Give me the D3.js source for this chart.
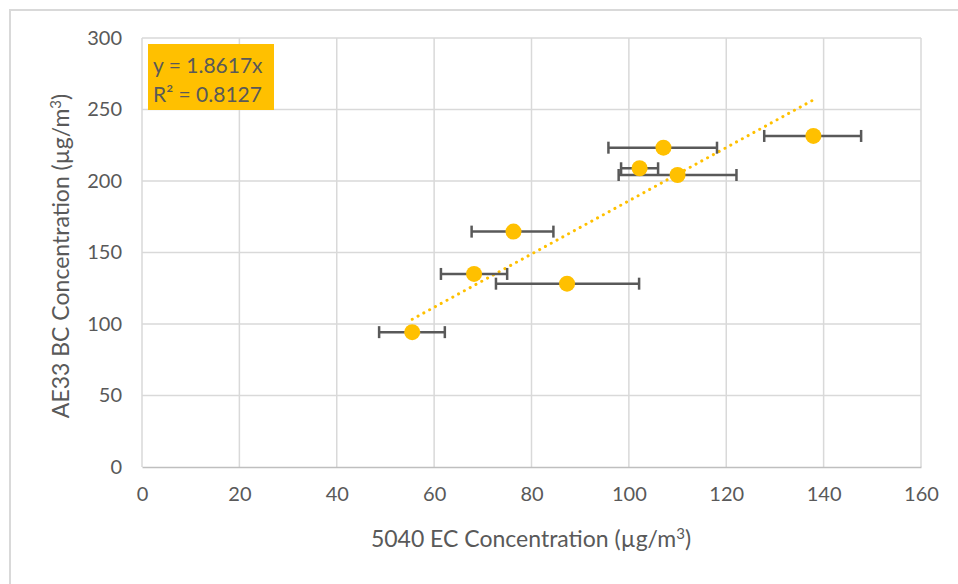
<!DOCTYPE html>
<html>
<head>
<meta charset="utf-8">
<script src="https://cdn.jsdelivr.net/npm/d3@7"></script>
<style>
  body { margin: 0; background: #fff; }
  text { font-family: Lato, "Open Sans", sans-serif; fill: #595959; }
</style>
</head>
<body>
<svg id="chart" width="958" height="584"></svg>
<script>
// EC (x) vs BC (y) with x error ranges
var ecValues = [55.5, 68.2, 76.3, 87.3, 102.2, 107.1, 110.0, 137.9];
var bcValues = [94.3, 135.0, 164.6, 128.2, 208.9, 223.3, 204.2, 231.5];
var ecLow    = [48.7, 61.4, 67.7, 72.7, 98.4, 95.8, 97.9, 127.8];
var ecHigh   = [62.2, 75.0, 84.5, 102.1, 106.0, 118.1, 122.1, 147.7];
var slope = 1.8617;
var rSquared = 0.8127;
var xTicks = [0, 20, 40, 60, 80, 100, 120, 140, 160];
var yTicks = [0, 50, 100, 150, 200, 250, 300];

var svg = d3.select("#chart"),
    plotLeft = 142, plotRight = 921, plotTop = 38, plotBottom = 467;

// outer chart border
svg.append("path")
    .attr("d", "M10,600 L10,10 L970,10")
    .attr("fill", "none")
    .attr("stroke", "#d9d9d9")
    .attr("stroke-width", 2);

var xScale = d3.scaleLinear().domain([0, 160]).range([plotLeft, plotRight]);
var yScale = d3.scaleLinear().domain([0, 300]).range([plotBottom, plotTop]);

// gridlines
svg.append("g").selectAll("line")
    .data(yTicks.filter(function (d) { return d > 0; }))
    .enter().append("line")
    .attr("x1", plotLeft).attr("x2", plotRight)
    .attr("y1", function (d) { return yScale(d); })
    .attr("y2", function (d) { return yScale(d); })
    .attr("stroke", "#d9d9d9").attr("stroke-width", 1.5);

svg.append("g").selectAll("line")
    .data(xTicks)
    .enter().append("line")
    .attr("y1", plotTop).attr("y2", plotBottom)
    .attr("x1", function (d) { return xScale(d); })
    .attr("x2", function (d) { return xScale(d); })
    .attr("stroke", "#d9d9d9").attr("stroke-width", 1.5);

// axes (labels only, Excel style)
var xAxis = d3.axisBottom(xScale).tickValues(xTicks).tickSize(0).tickPadding(20);
var gx = svg.append("g")
    .attr("transform", "translate(0," + plotBottom + ")")
    .call(xAxis);
gx.select(".domain").attr("stroke", "#bfbfbf").attr("stroke-width", 1.5);
gx.selectAll("text").style("font-size", "20px").style("font-family", "Lato").attr("fill", "#595959");

var yAxis = d3.axisLeft(yScale).tickValues(yTicks).tickSize(0).tickPadding(20);
var gy = svg.append("g")
    .attr("transform", "translate(" + plotLeft + ",0)")
    .call(yAxis);
gy.select(".domain").remove();
gy.selectAll("text").style("font-size", "20px").style("font-family", "Lato").attr("fill", "#595959");

// axis titles
var xt = svg.append("text")
    .attr("x", 531).attr("y", 547)
    .attr("text-anchor", "middle")
    .style("font-size", "23px");
xt.append("tspan").text("5040 EC Concentration (µg/m");
xt.append("tspan").text("3").attr("dy", -8).style("font-size", "15px");
xt.append("tspan").text(")").attr("dy", 8);

var yt = svg.append("text")
    .attr("transform", "translate(69,256) rotate(-90)")
    .attr("text-anchor", "middle")
    .style("font-size", "23px");
yt.append("tspan").text("AE33 BC Concentration (µg/m");
yt.append("tspan").text("3").attr("dy", -8).style("font-size", "15px");
yt.append("tspan").text(")").attr("dy", 8);

// trendline
var xMin = d3.min(ecValues), xMax = d3.max(ecValues);
svg.append("line")
    .attr("x1", xScale(xMin)).attr("y1", yScale(slope * xMin))
    .attr("x2", xScale(xMax)).attr("y2", yScale(slope * xMax))
    .attr("stroke", "#ffc000")
    .attr("stroke-width", 3)
    .attr("stroke-linecap", "round")
    .attr("stroke-dasharray", "0.1 6.5");

var pts = ecValues.map(function (x, i) {
    return { x: x, y: bcValues[i], lo: ecLow[i], hi: ecHigh[i] };
});

// error bars
var eb = svg.append("g").selectAll("g").data(pts).enter().append("g")
    .attr("stroke", "#595959").attr("stroke-width", 2.5);
eb.append("line")
    .attr("x1", function (d) { return xScale(d.lo); })
    .attr("x2", function (d) { return xScale(d.hi); })
    .attr("y1", function (d) { return yScale(d.y); })
    .attr("y2", function (d) { return yScale(d.y); });
eb.append("line")
    .attr("x1", function (d) { return xScale(d.lo); })
    .attr("x2", function (d) { return xScale(d.lo); })
    .attr("y1", function (d) { return yScale(d.y) - 6; })
    .attr("y2", function (d) { return yScale(d.y) + 6; });
eb.append("line")
    .attr("x1", function (d) { return xScale(d.hi); })
    .attr("x2", function (d) { return xScale(d.hi); })
    .attr("y1", function (d) { return yScale(d.y) - 6; })
    .attr("y2", function (d) { return yScale(d.y) + 6; });

// markers
svg.append("g").selectAll("circle").data(pts).enter().append("circle")
    .attr("cx", function (d) { return xScale(d.x); })
    .attr("cy", function (d) { return yScale(d.y); })
    .attr("r", 8)
    .attr("fill", "#ffc000");

// equation label
svg.append("rect")
    .attr("x", 148).attr("y", 44).attr("width", 126).attr("height", 66)
    .attr("fill", "#ffc000");
svg.append("text")
    .attr("x", 153).attr("y", 73)
    .style("font-size", "21px")
    .text("y = " + slope + "x");
svg.append("text")
    .attr("x", 153).attr("y", 102)
    .style("font-size", "21px")
    .text("R² = " + rSquared);
</script>
</body>
</html>
